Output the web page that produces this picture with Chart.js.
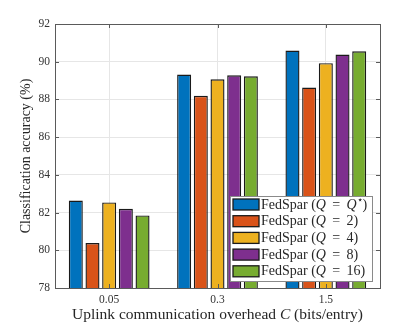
<!DOCTYPE html>
<html>
<head>
<meta charset="utf-8">
<script src="https://cdn.jsdelivr.net/npm/chart.js@4"></script>
<style>html,body{margin:0;padding:0;background:#fff}</style>
</head>
<body>
<canvas id="myChart" width="420" height="325"></canvas>
<script>
// data
const categories = ['0.05', '0.3', '1.5'];
const seriesLabels = ['FedSpar (Q = Q⋆)', 'FedSpar (Q = 2)', 'FedSpar (Q = 4)', 'FedSpar (Q = 8)', 'FedSpar (Q = 16)'];
const qStar = [82.64, 89.32, 90.59];
const q2 = [80.38, 88.19, 88.63];
const q4 = [82.54, 89.07, 89.92];
const q8 = [82.20, 89.28, 90.38];
const q16 = [81.85, 89.23, 90.55];
const yTicks = [78, 80, 82, 84, 86, 88, 90, 92];
const xTitle = 'Uplink communication overhead C (bits/entry)';
const yTitle = 'Classification accuracy (%)';

const colors = ['#0072BD', '#D95319', '#EDB120', '#7E2F8E', '#77AC30'];
const serif = '"Liberation Serif", "DejaVu Serif", serif';

// draw text where single capital letters are italic (math) and ⋆ is a superscript
function richParts(str) {
    return str.replace(/ = /g, ' \u2009=\u2009 ').split(/(\b[A-Z]\b|⋆)/).filter(s => s).map(s => {
        if (s === '⋆') return {t: s, sup: true};
        if (/^[A-Z]$/.test(s)) return {t: s, italic: true};
        return {t: s};
    });
}
function partFont(p, size) {
    if (p.sup) return Math.round(size * 0.7) + 'px ' + serif;
    return (p.italic ? 'italic ' : '') + size + 'px ' + serif;
}
function drawRich(ctx, str, x, y, size, align) {
    const parts = richParts(str);
    let w = 0;
    parts.forEach(p => { ctx.font = partFont(p, size); p.w = ctx.measureText(p.t).width; w += p.w; });
    let cx = align === 'center' ? x - w / 2 : x;
    ctx.textAlign = 'left';
    ctx.textBaseline = 'middle';
    parts.forEach(p => {
        ctx.font = partFont(p, size);
        ctx.fillText(p.t, cx, p.sup ? y - size * 0.3 : y);
        cx += p.w;
    });
}

const boxPlugin = {
    id: 'matlabBox',
    afterDraw(chart) {
        const ctx = chart.ctx;
        const a = chart.chartArea;
        const x = chart.scales.x, y = chart.scales.y;
        ctx.save();
        ctx.strokeStyle = '#5a5a5a';
        ctx.lineWidth = 1;
        ctx.strokeRect(Math.round(a.left) + 0.5, Math.round(a.top) + 0.5, Math.round(a.right - a.left), Math.round(a.bottom - a.top));
        // inward tick marks
        ctx.beginPath();
        yTicks.forEach(v => {
            const py = Math.round(y.getPixelForValue(v)) + 0.5;
            ctx.moveTo(a.left, py); ctx.lineTo(a.left + 4, py);
            ctx.moveTo(a.right, py); ctx.lineTo(a.right - 4, py);
        });
        categories.forEach((c, i) => {
            const px = Math.round(x.getPixelForValue(i)) + 0.5;
            ctx.moveTo(px, a.bottom); ctx.lineTo(px, a.bottom - 4);
            ctx.moveTo(px, a.top); ctx.lineTo(px, a.top + 4);
        });
        ctx.stroke();

        // x axis title
        ctx.fillStyle = '#262626';
        drawRich(ctx, xTitle, (a.left + a.right) / 2, 315, 15.5, 'center');

        // legend inside plot, bottom right
        const lx = 230, ly = 196, lw = 142, lh = 85;
        ctx.fillStyle = '#fff';
        ctx.fillRect(lx, ly, lw, lh);
        ctx.strokeStyle = '#8a8a8a';
        ctx.strokeRect(lx + 0.5, ly + 0.5, lw, lh);
        chart.data.datasets.forEach((ds, i) => {
            const ry = ly + 8.5 + i * 16.7;
            ctx.fillStyle = ds.backgroundColor;
            ctx.fillRect(233, ry - 5.5, 26, 11);
            ctx.strokeStyle = '#1a1a1a';
            ctx.lineWidth = 1.3;
            ctx.strokeRect(233, ry - 5.5, 26, 11);
            ctx.fillStyle = '#262626';
            drawRich(ctx, ds.label, 261, ry + 0.5, 14, 'left');
        });
        ctx.restore();
    }
};

const seriesData = [qStar, q2, q4, q8, q16];

let myChart = document.getElementById('myChart').getContext('2d');

let accuracyChart = new Chart(myChart, {
    type: 'bar',
    data: {
        labels: categories,
        datasets: seriesData.map((d, i) => ({
            label: seriesLabels[i],
            data: d,
            backgroundColor: colors[i],
            borderColor: '#1a1a1a',
            borderWidth: 1.4,
            categoryPercentage: 0.77,
            barPercentage: 0.84
        }))
    },
    options: {
        responsive: false,
        animation: false,
        layout: {padding: {top: 24, right: 40, left: 0, bottom: 0}},
        plugins: {legend: {display: false}, tooltip: {enabled: false}},
        scales: {
            x: {
                offset: true,
                grid: {color: '#e6e6e6', offset: false, drawTicks: false},
                border: {display: false},
                ticks: {color: '#333', padding: 5, font: {family: serif, size: 11.5}},
                afterFit: s => { s.height = 37; }
            },
            y: {
                min: 78,
                max: 92,
                grid: {color: '#e6e6e6', drawTicks: false},
                border: {display: false},
                afterBuildTicks: s => { s.ticks = yTicks.map(v => ({value: v})); },
                ticks: {color: '#333', padding: 5, font: {family: serif, size: 11.5}},
                title: {display: true, text: yTitle, color: '#262626', font: {family: serif, size: 14}, padding: {top: 18, bottom: 0}},
                afterFit: s => { s.width = 55; }
            }
        }
    },
    plugins: [boxPlugin]
});
</script>
</body>
</html>
